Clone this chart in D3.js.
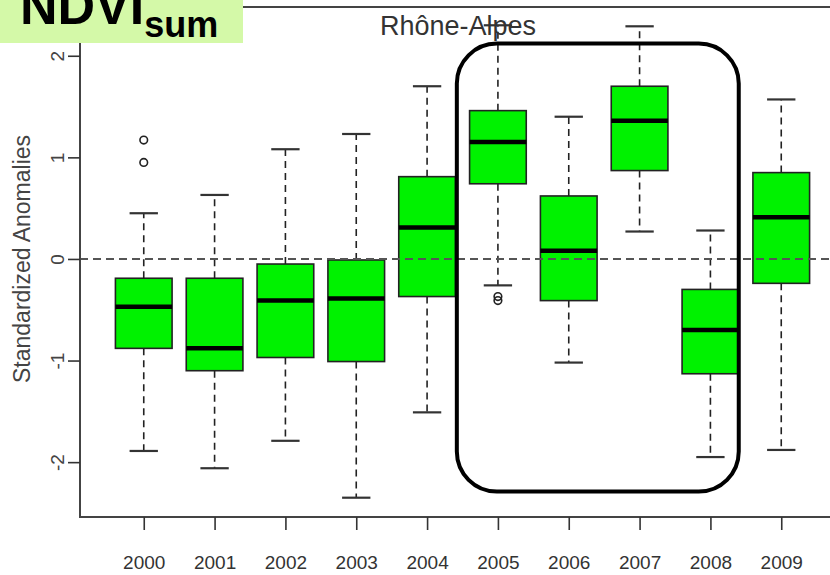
<!DOCTYPE html>
<html>
<head>
<meta charset="utf-8">
<script src="https://cdn.jsdelivr.net/npm/d3@7"></script>
<style>
  body { margin: 0; background: #fff; }
  svg { display: block; font-family: "Liberation Sans", Arial, sans-serif; }
</style>
</head>
<body>
<div id="chart"></div>
<script>
// boxplot stats per year
var years = ["2000", "2001", "2002", "2003", "2004", "2005", "2006", "2007", "2008", "2009"];
var upperWhisker = [0.45, 0.63, 1.08, 1.23, 1.70, 2.30, 1.40, 2.29, 0.28, 1.57];
var q3 = [-0.19, -0.19, -0.05, -0.01, 0.81, 1.46, 0.62, 1.70, -0.30, 0.85];
var medians = [-0.47, -0.88, -0.41, -0.39, 0.31, 1.15, 0.08, 1.36, -0.70, 0.41];
var q1 = [-0.88, -1.10, -0.97, -1.01, -0.37, 0.74, -0.41, 0.87, -1.13, -0.24];
var lowerWhisker = [-1.89, -2.06, -1.79, -2.35, -1.51, -0.26, -1.02, 0.27, -1.95, -1.88];
var outlierYears = ["2000", "2000", "2005", "2005"];
var outlierValues = [1.17, 0.95, -0.37, -0.41];
var yTicks = [-2, -1, 0, 1, 2];

// highlighted years (rounded frame), in box index units
var frameFrom = 5.42, frameTo = 9.40, frameTop = 2.12, frameBottom = -2.29;

var width = 830,
    height = 575;

var svg = d3.select("#chart").append("svg")
    .attr("width", width)
    .attr("height", height);

// R style extents: boxes at 1..10, xlim 0.5..10.5 plus 4%
var x = d3.scaleLinear().domain([0.1, 10.9]).range([80, 845]);
var y = d3.scaleLinear().domain([-2.54, 2.48]).range([517, 7]);
var boxW = x(0.8) - x(0);
var capW = x(0.4) - x(0);

var boxes = years.map(function(yr, i) {
    return { year: yr, pos: i + 1, hi: upperWhisker[i], q3: q3[i], med: medians[i], q1: q1[i], lo: lowerWhisker[i] };
});

// whiskers (dashed)
var g = svg.append("g");
g.selectAll(".whisker-up")
    .data(boxes).enter().append("line")
    .attr("x1", function(d) { return x(d.pos); })
    .attr("x2", function(d) { return x(d.pos); })
    .attr("y1", function(d) { return y(d.q3); })
    .attr("y2", function(d) { return y(d.hi); })
    .attr("stroke", "#222").attr("stroke-width", 1.6).attr("stroke-dasharray", "7,5");
g.selectAll(".whisker-down")
    .data(boxes).enter().append("line")
    .attr("x1", function(d) { return x(d.pos); })
    .attr("x2", function(d) { return x(d.pos); })
    .attr("y1", function(d) { return y(d.q1); })
    .attr("y2", function(d) { return y(d.lo); })
    .attr("stroke", "#222").attr("stroke-width", 1.6).attr("stroke-dasharray", "7,5");

// caps
["hi", "lo"].forEach(function(k) {
    g.selectAll(".cap-" + k)
        .data(boxes).enter().append("line")
        .attr("x1", function(d) { return x(d.pos) - capW / 2; })
        .attr("x2", function(d) { return x(d.pos) + capW / 2; })
        .attr("y1", function(d) { return y(d[k]); })
        .attr("y2", function(d) { return y(d[k]); })
        .attr("stroke", "#333").attr("stroke-width", 2.2);
});

// boxes
g.selectAll(".box")
    .data(boxes).enter().append("rect")
    .attr("x", function(d) { return x(d.pos) - boxW / 2; })
    .attr("y", function(d) { return y(d.q3); })
    .attr("width", boxW)
    .attr("height", function(d) { return y(d.q1) - y(d.q3); })
    .attr("fill", "#00f200")
    .attr("stroke", "#222")
    .attr("stroke-width", 1.6);

// medians
g.selectAll(".median")
    .data(boxes).enter().append("line")
    .attr("x1", function(d) { return x(d.pos) - boxW / 2; })
    .attr("x2", function(d) { return x(d.pos) + boxW / 2; })
    .attr("y1", function(d) { return y(d.med); })
    .attr("y2", function(d) { return y(d.med); })
    .attr("stroke", "#000").attr("stroke-width", 4.5);

// outliers
g.selectAll(".outlier")
    .data(outlierValues).enter().append("circle")
    .attr("cx", function(d, i) { return x(years.indexOf(outlierYears[i]) + 1); })
    .attr("cy", function(d) { return y(d); })
    .attr("r", 3.8)
    .attr("fill", "none")
    .attr("stroke", "#222")
    .attr("stroke-width", 1.6);

// zero reference line
svg.append("line")
    .attr("x1", x(0.1)).attr("x2", width)
    .attr("y1", y(0)).attr("y2", y(0))
    .attr("stroke", "#555").attr("stroke-width", 2).attr("stroke-dasharray", "8,5");

// plot frame
svg.append("rect")
    .attr("x", x(0.1)).attr("y", y(2.48))
    .attr("width", x(10.9) - x(0.1))
    .attr("height", y(-2.54) - y(2.48))
    .attr("fill", "none")
    .attr("stroke", "#444")
    .attr("stroke-width", 2);

// x axis
var xAxis = svg.append("g")
    .attr("transform", "translate(0," + y(-2.54) + ")")
    .call(d3.axisBottom(x)
        .tickValues(d3.range(1, years.length + 1))
        .tickFormat(function(d) { return years[d - 1]; })
        .tickSize(13)
        .tickPadding(26));
xAxis.select(".domain").remove();
xAxis.selectAll("line").attr("stroke", "#333").attr("stroke-width", 1.6);
xAxis.selectAll("text")
    .attr("font-family", "'Liberation Sans', Arial, sans-serif")
    .attr("font-size", 19)
    .attr("fill", "#333");

// y axis, labels parallel to the axis like R
var yAxis = svg.append("g")
    .attr("transform", "translate(" + x(0.1) + ",0)")
    .call(d3.axisLeft(y).tickValues(yTicks).tickSize(12).tickFormat(d3.format("d")));
yAxis.select(".domain").remove();
yAxis.selectAll("line").attr("stroke", "#333").attr("stroke-width", 1.6);
yAxis.selectAll("text")
    .attr("font-family", "'Liberation Sans', Arial, sans-serif")
    .attr("font-size", 19)
    .attr("fill", "#444")
    .attr("x", null).attr("dy", null)
    .attr("text-anchor", "middle")
    .attr("transform", "translate(-16,0) rotate(-90)")
    .text(function(d) { return d < 0 ? "-" + Math.abs(d) : d; });

// axis title
svg.append("text")
    .attr("transform", "translate(30," + y(0) + ") rotate(-90)")
    .attr("text-anchor", "middle")
    .attr("font-size", 23)
    .attr("fill", "#444")
    .text("Standardized Anomalies");

// title
svg.append("text")
    .attr("x", 458).attr("y", 35)
    .attr("text-anchor", "middle")
    .attr("font-size", 27)
    .attr("fill", "#333")
    .text("Rhône-Alpes");

// rounded frame around 2005-2008
svg.append("rect")
    .attr("x", x(frameFrom))
    .attr("y", y(frameTop))
    .attr("width", x(frameTo) - x(frameFrom))
    .attr("height", y(frameBottom) - y(frameTop))
    .attr("rx", 40).attr("ry", 40)
    .attr("fill", "none")
    .attr("stroke", "#000")
    .attr("stroke-width", 4);

// NDVI_sum label box in the corner (top of NDVI is cut in the original)
svg.append("rect")
    .attr("x", 0).attr("y", 0)
    .attr("width", 243).attr("height", 43)
    .attr("fill", "#d4f9a8");
var lab = svg.append("text")
    .attr("x", 20).attr("y", 24)
    .attr("font-weight", "bold")
    .attr("fill", "#000");
lab.append("tspan").attr("font-size", 52).text("NDVI");
lab.append("tspan").attr("font-size", 36).attr("dy", 13).text("sum");
</script>
</body>
</html>
